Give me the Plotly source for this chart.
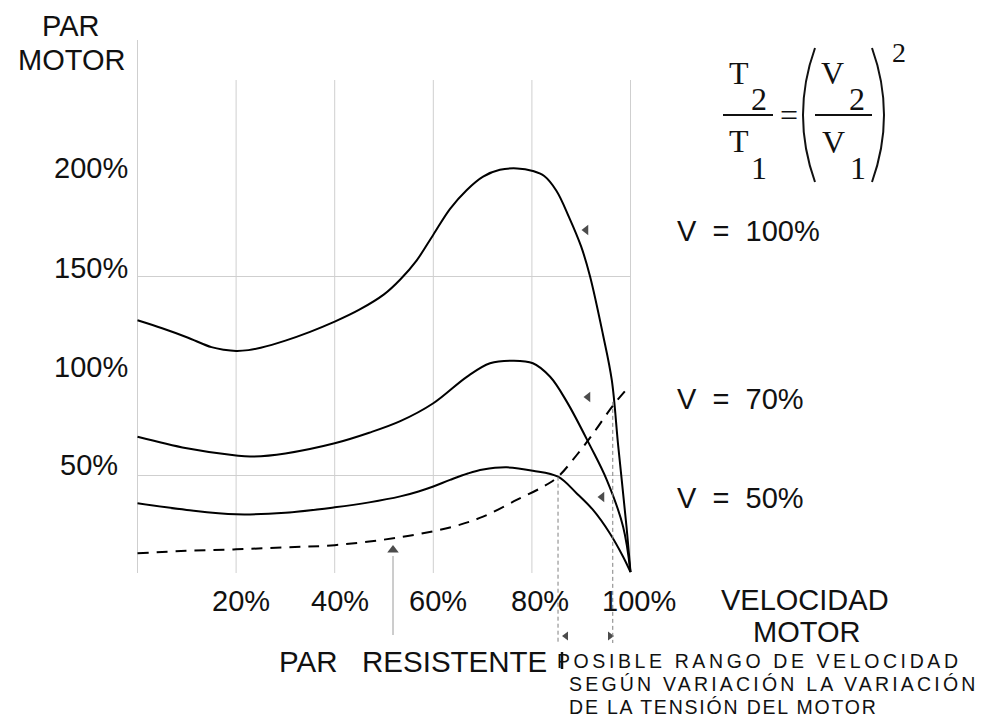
import plotly.graph_objects as go

# ---------------- data (% units) ----------------
speed_v100 = [0, 5, 10, 15, 17.5, 20, 22.5, 25, 30, 35, 40, 45, 50, 53.3, 56.6, 60, 63.4, 66.8, 70.1, 73.5,
              77, 80.2, 82.5, 85, 87.5, 90, 91.8, 94.4, 96.2, 97.5, 99.2, 100]
torque_v100 = [128, 124, 119.5, 114.5, 113.2, 112.6, 113, 114.2, 117.8, 122.2, 127.3, 133.3, 141, 148.5, 158,
               171, 184, 193.5, 200.2, 203.6, 204.3, 203, 200.5, 193, 180, 165, 150, 121, 98, 65, 24, 1.5]

speed_v70 = [0, 10, 20, 23, 30, 40, 47, 53.3, 60, 66.8, 71.5, 76.2, 80.2, 83.7, 87.1, 91.8, 95.2, 98.5, 100]
torque_v70 = [69.5, 63.7, 60, 59.5, 61.1, 66.2, 71.5, 77.3, 86.3, 99.6, 106.4, 107.7, 106.4, 99.6, 87, 65,
              47.7, 24.3, 1.5]

speed_v50 = [0, 10, 20, 30, 40, 47, 53.3, 57, 60, 63.4, 67, 70.1, 74.9, 80.2, 85.3, 89.1, 92.4, 95.8, 98.5, 100]
torque_v50 = [36, 32.7, 30.5, 31.3, 34, 36.5, 39.5, 42, 44.5, 47.8, 51, 53, 54.1, 52.4, 49.4, 41, 32.7, 21,
              9.2, 1.5]

speed_load = [0, 10, 20, 30, 40, 53.3, 64, 70.1, 76.9, 82.3, 85.3, 89.1, 92.4, 96.4, 100]
torque_load = [10.9, 12.2, 12.9, 13.9, 15, 19, 24.3, 29.3, 37.7, 44.4, 49.4, 60.3, 71, 85, 95.5]

# speed range limits (where the load curve meets V=50% and V=100%)
range_speed = [85.3, 96.4]
range_torque = [49.4, 87]

x_ticks = [20, 40, 60, 80, 100]
x_tick_labels = ["20%", "40%", "60%", "80%", "100%"]
y_ticks = [200, 150, 100, 50]
y_tick_labels = ["200%", "150%", "100%", "50%"]
h_grid = [150, 50]
v_grid = [0, 20, 40, 60, 80, 100]
voltage_labels = ["V\u00a0\u00a0=\u00a0\u00a0100%", "V\u00a0\u00a0=\u00a0\u00a070%", "V\u00a0\u00a0=\u00a0\u00a050%"]
range_text = ["POSIBLE RANGO DE VELOCIDAD", "SEGÚN VARIACIÓN LA VARIACIÓN", "DE LA TENSIÓN DEL MOTOR"]

# ---------------- frame (pixel layout) ----------------
W, H = 984, 724
X0_PX, X_PX = 137.5, 4.93
Y0_PX, Y_PX = 575.0, 1.99


def px2x(px):
    return (px - X0_PX) / X_PX


def py2y(py):
    return (Y0_PX - py) / Y_PX


SANS = "Liberation Sans, Arial, sans-serif"
SERIF = "Liberation Serif, Times New Roman, serif"
INK = "#111111"

fig = go.Figure()

shapes = []
for gx in v_grid:
    top = py2y(40) if gx == 0 else py2y(80)
    shapes.append(dict(type="line", xref="x", yref="y", x0=gx, x1=gx, y0=py2y(573), y1=top,
                       line=dict(color="#cfcfcf", width=1), layer="below"))
for gy in h_grid:
    shapes.append(dict(type="line", xref="x", yref="y", x0=0, x1=100, y0=gy, y1=gy,
                       line=dict(color="#cfcfcf", width=1), layer="below"))

for sx, sy in zip(range_speed, range_torque):
    shapes.append(dict(type="line", xref="x", yref="y", x0=sx, x1=sx, y0=sy, y1=py2y(643),
                       line=dict(color="#808080", width=1, dash="4px,3px")))

shapes.append(dict(type="line", xref="x", yref="y", x0=px2x(393), x1=px2x(393), y0=py2y(556), y1=py2y(635),
                   line=dict(color="#9a9a9a", width=1)))
shapes.append(dict(type="line", xref="x", yref="y", x0=px2x(562), x1=px2x(562), y0=py2y(652), y1=py2y(669),
                   line=dict(color=INK, width=2.5)))

shapes.append(dict(type="line", xref="x", yref="y", x0=px2x(723), x1=px2x(773), y0=py2y(115), y1=py2y(115),
                   line=dict(color=INK, width=2)))
shapes.append(dict(type="line", xref="x", yref="y", x0=px2x(815), x1=px2x(872), y0=py2y(115), y1=py2y(115),
                   line=dict(color=INK, width=2)))


def paren(xe, xc):
    return "M {a},{b} Q {c},{d} {e},{f}".format(a=px2x(xe), b=py2y(48), c=px2x(xc), d=py2y(115),
                                                   e=px2x(xe), f=py2y(182))


shapes.append(dict(type="path", xref="x", yref="y", path=paren(815, 791), line=dict(color=INK, width=2)))
shapes.append(dict(type="path", xref="x", yref="y", path=paren(872, 896), line=dict(color=INK, width=2)))

for sx, sy, name in [(speed_v100, torque_v100, "V = 100%"), (speed_v70, torque_v70, "V = 70%"),
                     (speed_v50, torque_v50, "V = 50%")]:
    fig.add_trace(go.Scatter(x=sx, y=sy, mode="lines", name=name,
                             line=dict(color="#000000", width=2, shape="spline", smoothing=1.0)))
fig.add_trace(go.Scatter(x=speed_load, y=torque_load, mode="lines", name="Par resistente",
                         line=dict(color="#000000", width=2, dash="11px,8px", shape="spline", smoothing=1.0)))

arrow_px = [(586, 230, "triangle-left", 9), (588, 397, "triangle-left", 9), (602, 497, "triangle-left", 9),
            (393, 550, "triangle-up", 10), (566, 636, "triangle-left", 8), (610, 636, "triangle-right", 8)]
fig.add_trace(go.Scatter(x=[px2x(a[0]) for a in arrow_px], y=[py2y(a[1]) for a in arrow_px], mode="markers",
                         marker=dict(symbol=[a[2] for a in arrow_px], size=[a[3] for a in arrow_px],
                                     color="#000000", line=dict(width=0)),
                         hoverinfo="skip"))

ann = []


def txt(px, py, text, size=29, xanchor="center", font=SANS):
    ann.append(dict(x=px2x(px), y=py2y(py), xref="x", yref="y", text=text, showarrow=False,
                    xanchor=xanchor, yanchor="middle", align="left" if xanchor == "left" else "center",
                    font=dict(family=font, size=size, color=INK)))


txt(70, 26, "PAR")
txt(71.5, 60, "MOTOR")
txt(805, 600, "VELOCIDAD")
txt(806, 632, "MOTOR")

for v, lab in zip(y_ticks, y_tick_labels):
    ann.append(dict(x=px2x(120 if v == 50 else 130), y=v, yshift=9 if v != 50 else 10.5, xref="x", yref="y",
                    text=lab, showarrow=False, xanchor="right", yanchor="middle",
                    font=dict(family=SANS, size=29, color=INK)))
for v, lab in zip(x_ticks, x_tick_labels):
    ann.append(dict(x=v, y=py2y(601), xshift=5 if v < 80 else 8, xref="x", yref="y", text=lab,
                    showarrow=False, xanchor="center", yanchor="middle",
                    font=dict(family=SANS, size=29, color=INK)))

for lab, py in zip(voltage_labels, [231, 399, 497.5]):
    txt(675, py, lab, xanchor="left")

txt(549, 661, "PAR\u00a0\u00a0\u00a0RESISTENTE", size=29.5, xanchor="right")
for line, px, py, ls in zip(range_text, [555, 567, 567], [661, 683.5, 706.5], [3.6, 3.2, 1.8]):
    txt(px, py, '<span style="letter-spacing:%.1fpx">%s</span>' % (ls, line), size=19.5, xanchor="left")

txt(738.5, 72.5, "T", 32, font=SERIF)
txt(759, 99, "2", 32, font=SERIF)
txt(738.5, 141, "T", 32, font=SERIF)
txt(759, 167.5, "1", 32, font=SERIF)
txt(788.5, 115, "=", 32, font=SERIF)
txt(832.5, 72.5, "V", 32, font=SERIF)
txt(857, 99, "2", 32, font=SERIF)
txt(833.5, 141.5, "V", 32, font=SERIF)
txt(857.5, 167.5, "1", 32, font=SERIF)
txt(899, 52.5, "2", 28, font=SERIF)

fig.update_layout(
    width=W, height=H,
    margin=dict(l=0, r=0, t=0, b=0),
    paper_bgcolor="white", plot_bgcolor="white",
    showlegend=False,
    xaxis=dict(range=[px2x(0), px2x(W)], visible=False, fixedrange=True),
    yaxis=dict(range=[py2y(H), py2y(0)], visible=False, fixedrange=True),
    shapes=shapes,
    annotations=ann,
)

fig.write_html("out.html", config={"displayModeBar": False},
               post_script="document.body.style.margin='0';document.body.style.padding='0';"
                           "document.body.style.overflow='hidden';")
